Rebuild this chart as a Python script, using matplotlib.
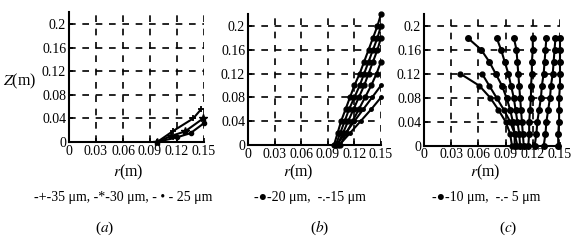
import matplotlib.pyplot as plt

plt.rcParams['font.family'] = ['Liberation Serif', 'DejaVu Sans']
plt.rcParams['mathtext.fontset'] = 'stix'

# ---- data: r (m) and Z (m) along each curve ----
# panel (a)
a35_r = [0.098, 0.116, 0.138, 0.147]
a35_z = [0.0, 0.019, 0.040, 0.056]
a30_r = [0.098, 0.113, 0.129, 0.149]
a30_z = [0.0, 0.010, 0.018, 0.040]
a25_r = [0.098, 0.120, 0.135, 0.150]
a25_z = [0.0, 0.008, 0.015, 0.032]

# panel (b)
b_z22 = [0.0, 0.02, 0.04, 0.06, 0.08, 0.10, 0.12, 0.14, 0.16, 0.18, 0.20, 0.22]
b20_r1 = [0.097, 0.101, 0.105, 0.110, 0.115, 0.120, 0.126, 0.131, 0.136, 0.141, 0.146, 0.150]
b20_r2 = [0.099, 0.104, 0.109, 0.114, 0.120, 0.126, 0.131, 0.136, 0.141, 0.146, 0.150]
b20_r3 = [0.101, 0.107, 0.113, 0.119, 0.125, 0.131, 0.136, 0.141, 0.146, 0.150]
b20_r4 = [0.104, 0.111, 0.118, 0.125, 0.132, 0.139, 0.145, 0.150]
b15_r1 = [0.100, 0.110, 0.120, 0.130, 0.140, 0.150]
b15_r2 = [0.103, 0.115, 0.127, 0.139, 0.150]

# panel (c)
c_z18 = [0.18, 0.16, 0.14, 0.12, 0.10, 0.08, 0.06, 0.04, 0.02, 0.0]
c_z12 = [0.12, 0.10, 0.08, 0.06, 0.04, 0.02, 0.0]
c10_r = [
    [0.048, 0.063, 0.072, 0.079, 0.086, 0.091, 0.095, 0.098, 0.100, 0.100],
    [0.080, 0.085, 0.089, 0.093, 0.096, 0.099, 0.101, 0.103, 0.105, 0.106],
    [0.099, 0.102, 0.103, 0.104, 0.105, 0.106, 0.107, 0.108, 0.109, 0.110],
    [0.120, 0.120, 0.119, 0.119, 0.118, 0.118, 0.117, 0.116, 0.116, 0.115],
    [0.135, 0.134, 0.133, 0.132, 0.130, 0.129, 0.127, 0.125, 0.124, 0.122],
    [0.145, 0.144, 0.143, 0.142, 0.140, 0.139, 0.137, 0.135, 0.134, 0.132],
    [0.150, 0.150, 0.150, 0.150, 0.150, 0.149, 0.149, 0.149, 0.148, 0.148],
]
c5_r = [
    [0.040, 0.061, 0.073, 0.082, 0.090, 0.095, 0.097],
    [0.064, 0.072, 0.080, 0.088, 0.095, 0.100, 0.103],
]

r_ticks = [0, 0.03, 0.06, 0.09, 0.12, 0.15]
r_labels = ['0', '0.03', '0.06', '0.09', '0.12', '0.15']
z_ticks = [0, 0.04, 0.08, 0.12, 0.16, 0.2]
z_labels = ['0', '0.04', '0.08', '0.12', '0.16', '0.2']

W, H = 580, 241
fig = plt.figure(figsize=(W / 100, H / 100), dpi=100)


def make_axes(left, bottom_px, width, height_px):
    ax = fig.add_axes([left / W, (H - bottom_px) / H, width / W, height_px / H])
    ax.set_xlim(0, 0.15)
    ax.set_ylim(0, 0.22)
    ax.set_xticks(r_ticks, r_labels)
    ax.set_yticks(z_ticks, z_labels)
    ax.tick_params(direction='in', length=3, width=1.2, labelsize=10, pad=2)
    ax.grid(True, color='black', linestyle=(0, (4, 4)), linewidth=1.2)
    for s in ('top', 'right'):
        ax.spines[s].set_visible(False)
    for s in ('left', 'bottom'):
        ax.spines[s].set_linewidth(1.5)
    return ax


ax_a = make_axes(69, 142, 135, 129.5)
ax_b = make_axes(248, 145, 133, 131)
ax_c = make_axes(424, 145.7, 136, 132)

kw = dict(color='black', linewidth=1.5, clip_on=False)
ax_a.plot(a35_r, a35_z, marker='+', markersize=5, mew=1.3, **kw)
ax_a.plot(a30_r, a30_z, marker='*', markersize=6, **kw)
ax_a.plot(a25_r, a25_z, marker='o', markersize=3, **kw)

for r in (b20_r1, b20_r2, b20_r3, b20_r4):
    ax_b.plot(r, b_z22[:len(r)], marker='o', markersize=3.5, **kw)
for r in (b15_r1, b15_r2):
    ax_b.plot(r, b_z22[:len(r)], marker='o', markersize=2.5, **kw)

for r in c10_r:
    ax_c.plot(r, c_z18, marker='o', markersize=4, **kw)
for r in c5_r:
    ax_c.plot(r, c_z12, marker='o', markersize=3.5, **kw)


def ftext(x, y, s, size=9.5, **k):
    fig.text(x / W, 1 - y / H, s, fontsize=size, ha='center', va='center', **k)


ftext(20, 81, '$Z$(m)', size=11.5)
ftext(128, 172, '$r$(m)', size=11.5)
ftext(298, 172, '$r$(m)', size=11.5)
ftext(485, 172, '$r$(m)', size=11.5)

ftext(123, 197, '-+-35 μm, -*-30 μm, - • - 25 μm', size=10)
ftext(310, 197, '-●-20 μm,  -.-15 μm', size=10)
ftext(486, 197, '-●-10 μm,  -.- 5 μm', size=10)

ftext(105, 228, '($a$)', size=11)
ftext(320, 228, '($b$)', size=11)
ftext(508, 228, '($c$)', size=11)

fig.savefig('out.png', dpi=100)
